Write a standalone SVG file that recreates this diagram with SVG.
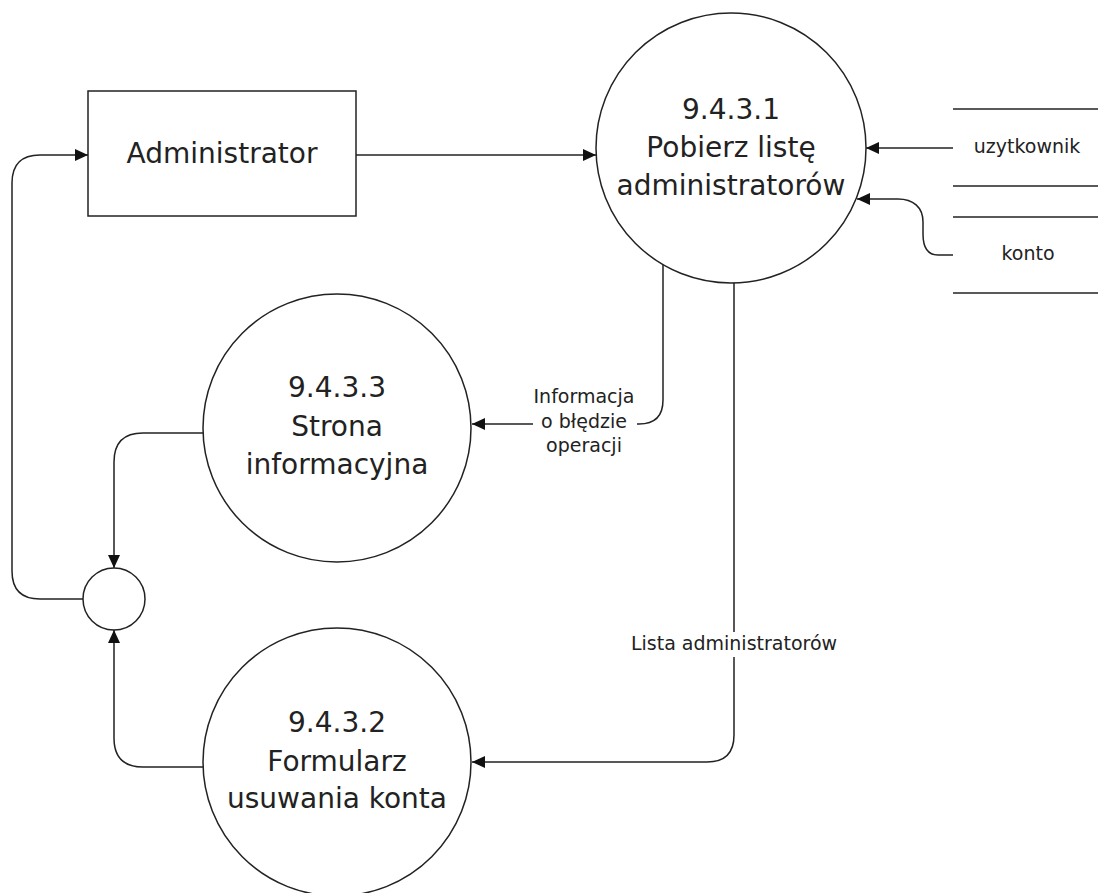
<svg xmlns="http://www.w3.org/2000/svg" width="1098" height="893" viewBox="0 0 1098 893">
<style>
.shape{fill:#fff;stroke:#222;stroke-width:1.5}
.conn{fill:none;stroke:#222;stroke-width:1.5}
.store{stroke:#222;stroke-width:1.5}
.big{font-family:"DejaVu Sans",Verdana,sans-serif;font-size:28px;fill:#222;text-anchor:middle}
.small{font-family:"DejaVu Sans",Verdana,sans-serif;font-size:19px;fill:#222;text-anchor:middle}
.bg{fill:#fff;stroke:none}
</style>
<defs>
<marker id="arr" markerUnits="userSpaceOnUse" markerWidth="14" markerHeight="14" viewBox="0 0 14 14" refX="13" refY="7" orient="auto">
<path d="M0,1 L13,7 L0,13 Z" fill="#111"/>
</marker>
</defs>
<rect width="1098" height="893" fill="#fff"/>
<g id="connectors">
<path class="conn" d="M356,155 H596" marker-end="url(#arr)"/>
<path class="conn" d="M953,148 H866" marker-end="url(#arr)"/>
<path class="conn" d="M953,255 H938 C927,255 923,246 923,234 V222 C923,207 913,199 898,199 H857" marker-end="url(#arr)"/>
<path class="conn" d="M663,265 V400 Q663,424 639,424 H472" marker-end="url(#arr)"/>
<path class="conn" d="M734,283 V735 Q734,762 707,762 H472" marker-end="url(#arr)"/>
<path class="conn" d="M83,599 H40 Q12,599 12,571 V183 Q12,155 40,155 H88" marker-end="url(#arr)"/>
<path class="conn" d="M203,433 H143 Q114,433 114,462 V568" marker-end="url(#arr)"/>
<path class="conn" d="M203,767 H143 Q114,767 114,738 V630" marker-end="url(#arr)"/>
<rect class="bg" x="533" y="384" width="104" height="76"/>
<text class="small" x="584" y="403">Informacja</text>
<text class="small" x="584" y="428">o błędzie</text>
<text class="small" x="584" y="452">operacji</text>
<rect class="bg" x="630" y="632" width="208" height="25"/>
<text class="small" x="734" y="650">Lista administratorów</text>
</g>
<g id="administrator">
<rect class="shape" x="88" y="91" width="268" height="125"/>
<text class="big" x="222" y="163">Administrator</text>
</g>
<g id="p9431">
<circle class="shape" cx="731" cy="148" r="135"/>
<text class="big" x="731" y="119">9.4.3.1</text>
<text class="big" x="731" y="157">Pobierz listę</text>
<text class="big" x="731" y="195">administratorów</text>
</g>
<g id="p9433">
<circle class="shape" cx="337" cy="428" r="134"/>
<text class="big" x="337" y="397">9.4.3.3</text>
<text class="big" x="337" y="436">Strona</text>
<text class="big" x="337" y="474">informacyjna</text>
</g>
<g id="p9432">
<circle class="shape" cx="337" cy="762" r="134"/>
<text class="big" x="337" y="732">9.4.3.2</text>
<text class="big" x="337" y="771">Formularz</text>
<text class="big" x="337" y="808">usuwania konta</text>
</g>
<g id="junction">
<circle class="shape" cx="114" cy="599" r="31"/>
</g>
<g id="store-uzytkownik">
<line class="store" x1="953" y1="109" x2="1098" y2="109"/>
<line class="store" x1="953" y1="186" x2="1098" y2="186"/>
<text class="small" x="1027" y="153">uzytkownik</text>
</g>
<g id="store-konto">
<line class="store" x1="953" y1="217" x2="1098" y2="217"/>
<line class="store" x1="953" y1="293" x2="1098" y2="293"/>
<text class="small" x="1028" y="260">konto</text>
</g>
</svg>
